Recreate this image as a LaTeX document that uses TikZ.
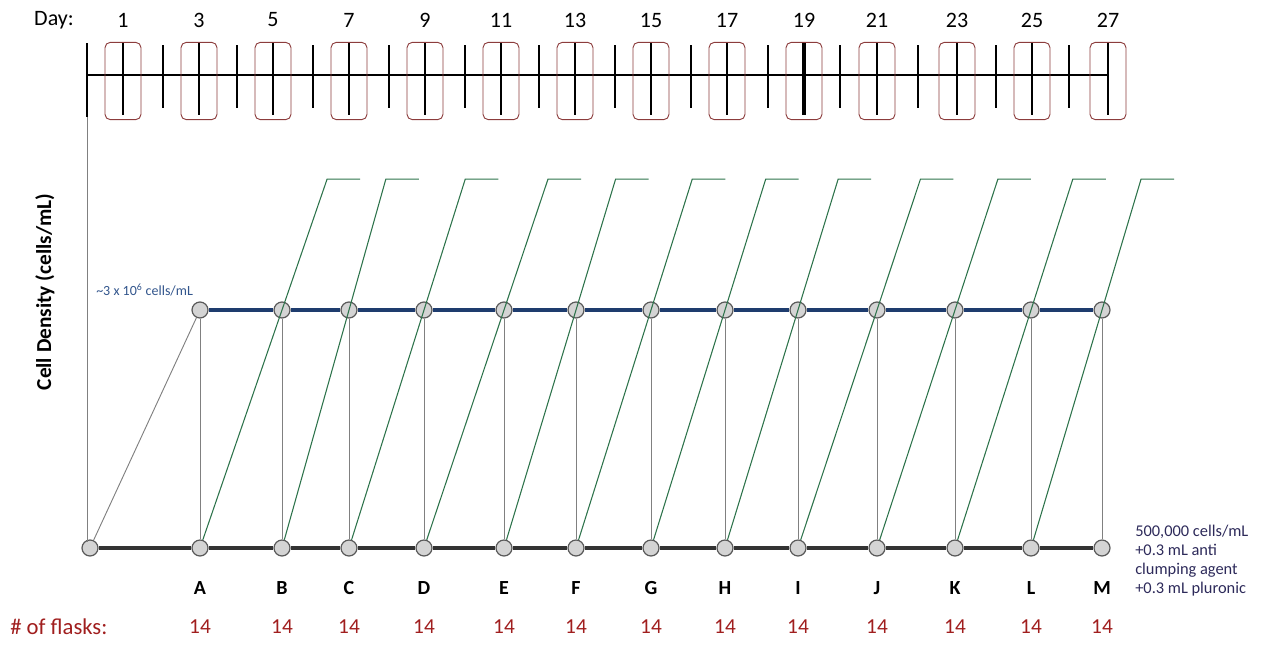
\documentclass[tikz,border=0pt]{standalone}
\usepackage{fontspec}
\setmainfont{Carlito}
\usetikzlibrary{calc}
\definecolor{boxred}{RGB}{140,60,60}
\definecolor{flaskred}{RGB}{160,30,30}
\definecolor{lineblue}{RGB}{30,60,110}
\definecolor{txtblue}{RGB}{50,85,140}
\definecolor{greenline}{RGB}{45,115,75}
\definecolor{notecol}{RGB}{45,42,90}
\tikzset{
  daybox/.style={draw=boxred, line width=0.7pt, rounded corners=4pt, minimum width=27pt, minimum height=58pt, inner sep=0pt},
  dot/.style={circle, draw=black!65, fill=black!17, line width=0.9pt, minimum size=12pt, inner sep=0pt},
  tl/.style={line width=0.9pt, black},
  tick/.style={line width=1.1pt, black},
  blueline/.style={line width=2.5pt, lineblue},
  baseline/.style={line width=2.4pt, black!80},
  vline/.style={line width=0.7pt, black!50},
  gline/.style={line width=0.8pt, greenline},
  daylbl/.style={font=\fontsize{16.5}{19}\selectfont, inner sep=0pt},
  lett/.style={font=\fontsize{15}{17}\selectfont\bfseries, inner sep=0pt},
  cnt/.style={font=\fontsize{16}{18}\selectfont, text=flaskred, inner sep=0pt}
}
\begin{document}
\begin{tikzpicture}[x=0.75pt,y=-0.75pt]
\useasboundingbox (0,0) rectangle (1263,664);
% timeline
\node[daylbl, anchor=center] (daylab) at (54,20) {Day:};
\coordinate (tlstart) at (87,75);
\coordinate (tlend) at (1108,75);
\draw[tl] (tlstart) -- (tlend);
\foreach \x in {163,237,313,389,465,539,615,691,768,840,918,996,1069}
  \draw[tick] (\x,45) -- (\x,108);
\draw[tick] (87,43) -- (87,117);
\foreach \x/\d in {123/1,199/3,273/5,349/7,425/9,501/11,575/13,651/15,727/17,804/19,877/21,957/23,1032/25,1108/27}{
  \node[daybox] (box\d) at (\x,81) {};
  \node[daylbl] (day\d) at (\x,20) {\d};
}
\foreach \x in {123,199,273,349,425,501,575,651,727,877,957,1032,1108}
  \draw[tick] (\x,43) -- (\x,115);
\draw[line width=2.4pt] (804,43) -- (804,115);
% axis label
\node[rotate=90, font=\fontsize{16}{19}\selectfont\bfseries] (ylab) at (45,292) {Cell Density (cells/mL)};
% nodes
\node[dot] (b0) at (90,548) {};
\foreach \x [count=\i] in {200,282,349,424,504,576,651,725,798,877,955,1031,1102}{
  \node[dot] (b\i) at (\x,548) {};
  \node[dot] (t\i) at (\x,310) {};
}
\coordinate (axtop) at (87,117);
\draw[vline] (axtop) -- (axtop |- b0.north west);
% labels
\foreach \x/\l in {200/A,282/B,349/C,424/D,504/E,576/F,651/G,725/H,798/I,877/J,955/K,1031/L,1102/M}{
  \node[lett] (L\l) at (\x,588) {\l};
  \node[cnt] (n\l) at (\x,627) {14};
}
\node[font=\fontsize{17}{19}\selectfont, text=flaskred, anchor=west, inner sep=0pt] (flasks) at (10,627) {\# of flasks:};
\node[font=\fontsize{10.5}{12}\selectfont, text=txtblue, anchor=west, inner sep=0pt] (dens) at (96,290) {\textasciitilde3 x 10\textsuperscript{6} cells/mL};
\node[font=\fontsize{12.3}{14.3}\selectfont, text=notecol, anchor=north west, align=left, inner sep=0pt] (note) at (1135,525)
  {500,000 cells/mL\\+0.3 mL anti\\clumping agent\\+0.3 mL pluronic};
% connectors
\draw[baseline] (b0) -- (b1);
\foreach \i [count=\j from 2] in {1,...,12}{
  \draw[blueline] (t\i) -- (t\j);
  \draw[baseline] (b\i) -- (b\j);
}
\foreach \i in {1,...,13}
  \draw[vline] (t\i) -- (b\i);
\draw[vline] (b0) -- (t1);
\foreach \i [count=\j from 2] in {1,...,12}{
  \coordinate (p\i) at ($(b\i.center)!1.55!(t\j.center)$);
  \draw[gline] (b\i) -- (p\i) -- ++(33,0);
}
\end{tikzpicture}
\end{document}
